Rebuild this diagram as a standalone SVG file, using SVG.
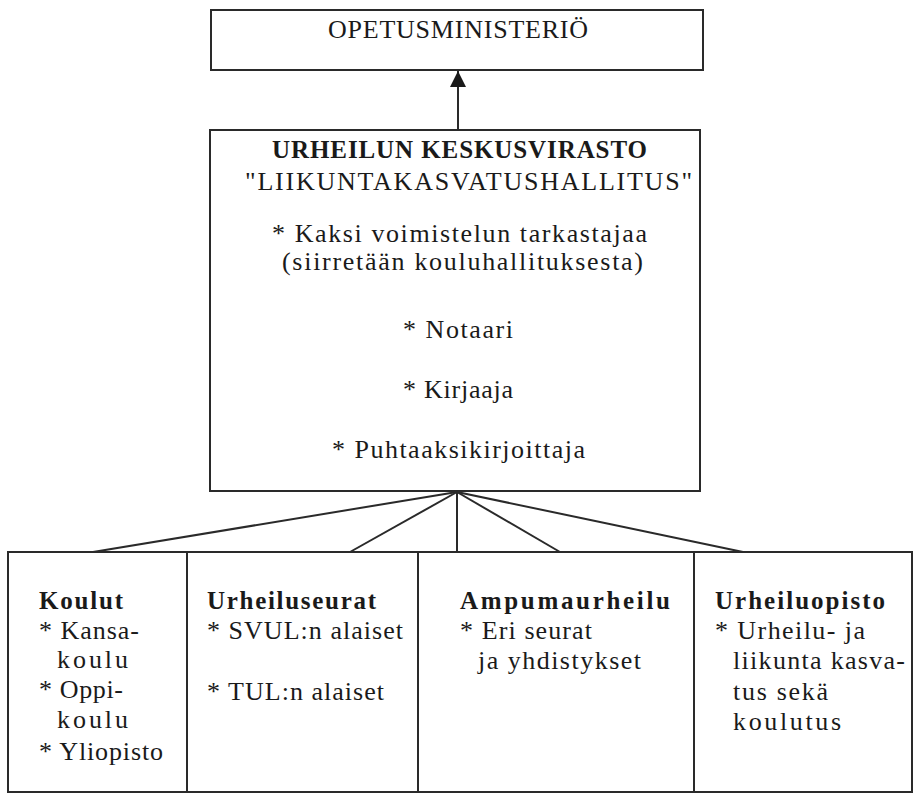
<svg xmlns="http://www.w3.org/2000/svg" width="914" height="794" viewBox="0 0 914 794">
<style>
.box{fill:#fff;stroke:#2a2a2a;stroke-width:2}
.ln{stroke:#2a2a2a;stroke-width:2;fill:none}
text{font-family:"Liberation Serif","Times New Roman",serif;fill:#1a1a1a;font-size:26px}
.b{font-weight:bold;font-size:25px}
</style>
<defs>
<marker id="ah" viewBox="0 0 10 10" refX="10" refY="5" markerWidth="9" markerHeight="8" markerUnits="strokeWidth" orient="auto">
<path d="M0,0 L10,5 L0,10 z" fill="#1a1a1a"/>
</marker>
</defs>
<g id="connectors">
<line class="ln" x1="458" y1="130" x2="458" y2="71" marker-end="url(#ah)"/>
<line class="ln" x1="457" y1="492" x2="93" y2="552"/>
<line class="ln" x1="457" y1="492" x2="350" y2="552"/>
<line class="ln" x1="457" y1="492" x2="457" y2="552"/>
<line class="ln" x1="457" y1="492" x2="560" y2="552"/>
<line class="ln" x1="457" y1="492" x2="743" y2="552"/>
</g>
<g id="opetusministerio">
<rect class="box" x="211" y="10" width="492" height="60"/>
<text x="328" y="38" textLength="260">OPETUSMINISTERIÖ</text>
</g>
<g id="keskusvirasto">
<rect class="box" x="210" y="130" width="490" height="361"/>
<text class="b" x="272" y="158" textLength="375">URHEILUN KESKUSVIRASTO</text>
<text x="245" y="190" textLength="447">"LIIKUNTAKASVATUSHALLITUS"</text>
<text x="272" y="242" textLength="375">* Kaksi voimistelun tarkastajaa</text>
<text x="282" y="270" textLength="361">(siirretään kouluhallituksesta)</text>
<text x="403" y="338" textLength="110">* Notaari</text>
<text x="403" y="398" textLength="110">* Kirjaaja</text>
<text x="332" y="458" textLength="253">* Puhtaaksikirjoittaja</text>
</g>
<g id="koulut">
<rect class="box" x="8" y="552" width="179" height="240"/>
<text class="b" x="39" y="609" textLength="84">Koulut</text>
<text x="39" y="639" textLength="100">* Kansa-</text>
<text x="57" y="668" textLength="71">koulu</text>
<text x="39" y="698" textLength="84">* Oppi-</text>
<text x="57" y="728" textLength="71">koulu</text>
<text x="39" y="760" textLength="124">* Yliopisto</text>
</g>
<g id="urheiluseurat">
<rect class="box" x="187" y="552" width="231" height="240"/>
<text class="b" x="207" y="609" textLength="169">Urheiluseurat</text>
<text x="207" y="639" textLength="196">* SVUL:n alaiset</text>
<text x="207" y="700" textLength="177">* TUL:n alaiset</text>
</g>
<g id="ampumaurheilu">
<rect class="box" x="418" y="552" width="276" height="240"/>
<text class="b" x="460" y="609" textLength="210">Ampumaurheilu</text>
<text x="460" y="639" textLength="132">* Eri seurat</text>
<text x="478" y="669" textLength="163">ja yhdistykset</text>
</g>
<g id="urheiluopisto">
<rect class="box" x="694" y="552" width="218" height="240"/>
<text class="b" x="715" y="609" textLength="170">Urheiluopisto</text>
<text x="715" y="639" textLength="150">* Urheilu- ja</text>
<text x="733" y="669" textLength="172">liikunta kasva-</text>
<text x="733" y="700" textLength="95">tus sekä</text>
<text x="733" y="730" textLength="108">koulutus</text>
</g>
</svg>
